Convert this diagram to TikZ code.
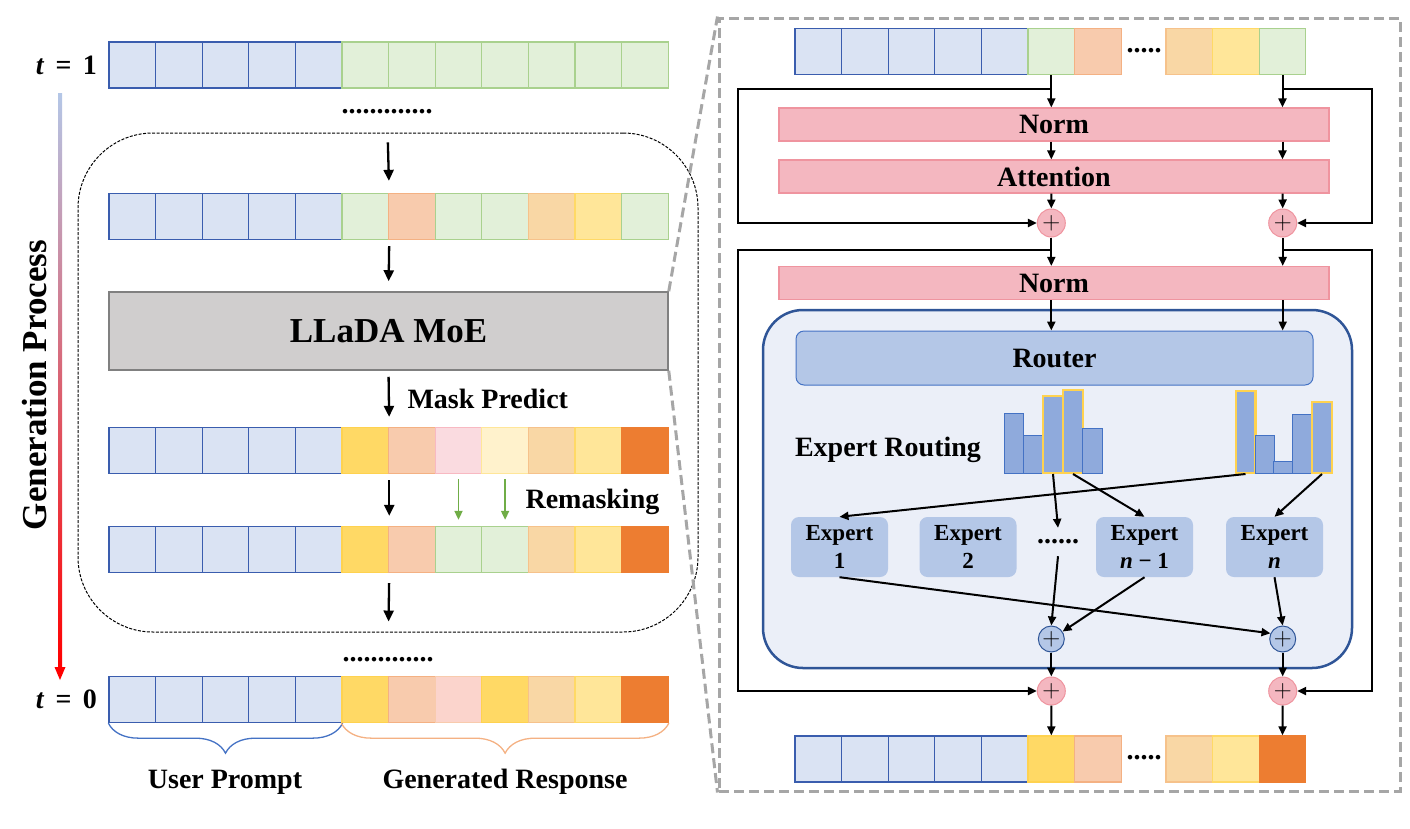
\documentclass[tikz,border=0pt]{standalone}
\usepackage{fontspec}
\setmainfont{Liberation Serif}
\usetikzlibrary{arrows.meta,decorations.pathreplacing,positioning}

\definecolor{tokblue}{HTML}{DAE3F3}   \definecolor{tokblueln}{HTML}{3A5DAE}
\definecolor{tokgreen}{HTML}{E2F0D9}  \definecolor{tokgreenln}{HTML}{A9D18E}
\definecolor{tokpeach}{HTML}{F8CBAD}  \definecolor{tokpeachln}{HTML}{F4B183}
\definecolor{toklor}{HTML}{F9D7A5}    \definecolor{toklorln}{HTML}{F6C28B}
\definecolor{tokyel}{HTML}{FFE699}    \definecolor{tokyelln}{HTML}{FFD966}
\definecolor{tokgold}{HTML}{FFD965}   \definecolor{tokgoldln}{HTML}{FFD24F}
\definecolor{tokpink}{HTML}{FADBE0}   \definecolor{tokpinkln}{HTML}{F8B9C2}
\definecolor{toklyel}{HTML}{FFF2CC}   \definecolor{toklyelln}{HTML}{FFE699}
\definecolor{tokorange}{HTML}{ED7D31}
\definecolor{tokrose}{HTML}{FBD4CC}   \definecolor{tokroseln}{HTML}{F8CBAD}
\definecolor{normfill}{HTML}{F4B7C0}  \definecolor{normln}{HTML}{EF949F}
\definecolor{moefill}{HTML}{EBEFF8}   \definecolor{moeln}{HTML}{2F5597}
\definecolor{routefill}{HTML}{B4C7E7}
\definecolor{barfill}{HTML}{8FAADC}   \definecolor{barln}{HTML}{4472C4}
\definecolor{framegray}{HTML}{A6A6A6}
\definecolor{boxgray}{HTML}{D0CECE}   \definecolor{boxgrayln}{HTML}{808080}
\definecolor{arrgreen}{HTML}{70AD47}
\definecolor{gentop}{HTML}{B4C7E7}    \definecolor{genmid}{HTML}{E89AAE}

\begin{document}
\begin{tikzpicture}[x=1pt,y=-1pt,
  cell/.style={draw, line width=1.3pt, minimum width=46.6pt, minimum height=46pt, inner sep=0pt},
  tblue/.style={fill=tokblue, draw=tokblueln},
  tgreen/.style={fill=tokgreen, draw=tokgreenln},
  tpeach/.style={fill=tokpeach, draw=tokpeachln},
  tlor/.style={fill=toklor, draw=toklorln},
  tyel/.style={fill=tokyel, draw=tokyelln},
  tgold/.style={fill=tokgold, draw=tokgoldln},
  tpink/.style={fill=tokpink, draw=tokpinkln},
  tlyel/.style={fill=toklyel, draw=toklyelln},
  torange/.style={fill=tokorange, draw=tokorange},
  trose/.style={fill=tokrose, draw=tokroseln},
  lab/.style={font=\fontsize{28}{30}\selectfont\bfseries},
  dots/.style={lab, inner sep=0pt},
  larr/.style={line width=2.3pt, -{Triangle[length=11pt,width=10pt]}, shorten <=6pt, shorten >=10pt},
  garr/.style={line width=1.7pt, draw=arrgreen, -{Triangle[length=9pt,width=8pt]}, shorten <=5pt, shorten >=6pt},
  rarr/.style={line width=2pt, -{Triangle[length=9pt,width=8pt]}},
  res/.style={line width=2.4pt, -{Triangle[length=9pt,width=8pt]}},
  normbox/.style={lab, draw=normln, fill=normfill, line width=1.2pt, minimum width=550pt, minimum height=33pt, inner sep=0pt},
  pplus/.style={circle, draw=normln, fill=normfill, line width=1pt, minimum size=28pt, inner sep=0pt, font=\fontsize{26}{26}\selectfont},
  bplus/.style={circle, draw=moeln, fill=routefill, line width=1pt, minimum size=26pt, inner sep=0pt, font=\fontsize{26}{26}\selectfont},
  bar/.style={draw=barln, fill=barfill, line width=1pt, minimum width=19.6pt, inner sep=0pt, anchor=south},
  hbar/.style={bar, draw=tokgoldln, line width=2.4pt},
  expert/.style={fill=routefill, rounded corners=8pt, minimum width=97pt, minimum height=60pt, inner sep=0pt, align=center,
    font=\fontsize{23}{28}\selectfont\bfseries},
  tlabel/.style={font=\fontsize{28}{28}\selectfont\bfseries},
  zoomln/.style={draw=framegray, line width=3pt, dash pattern=on 10pt off 5pt}]
\useasboundingbox (0,0) rectangle (1410,828);

% ---- left: generation process ----
\foreach \y [count=\r] in {65,216.5,450.5,549.5,699.5}
  \foreach \i in {1,...,5}
    \node[cell,tblue] (r\r-\i) at ({109+46.6*(\i-0.5)},\y) {};
\foreach \s [count=\j from 6] in {tgreen,tgreen,tgreen,tgreen,tgreen,tgreen,tgreen}
  \node[cell,\s] (r1-\j) at ({109+46.6*(\j-0.5)},65) {};
\foreach \s [count=\j from 6] in {tgreen,tpeach,tgreen,tgreen,tlor,tyel,tgreen}
  \node[cell,\s] (r2-\j) at ({109+46.6*(\j-0.5)},216.5) {};
\foreach \s [count=\j from 6] in {tgold,tpeach,tpink,tlyel,tlor,tyel,torange}
  \node[cell,\s] (r3-\j) at ({109+46.6*(\j-0.5)},450.5) {};
\foreach \s [count=\j from 6] in {tgold,tpeach,tgreen,tgreen,tlor,tyel,torange}
  \node[cell,\s] (r4-\j) at ({109+46.6*(\j-0.5)},549.5) {};
\foreach \s [count=\j from 6] in {tgold,tpeach,trose,tgold,tlor,tyel,torange}
  \node[cell,\s] (r5-\j) at ({109+46.6*(\j-0.5)},699.5) {};

\node[tlabel, left=8pt of r1-1] (t1) {\textit{t}\hspace{0.4em}=\hspace{0.4em}1};
\node[tlabel, left=8pt of r5-1] (t0) {\textit{t}\hspace{0.4em}=\hspace{0.4em}0};

\node[draw, dash pattern=on 3pt off 1.5pt, line width=1pt, rounded corners=75pt,
  minimum width=620pt, minimum height=499pt] (loop) at (388,382.5) {};
\node[dots] (ld1) at (387,112) {.............};
\node[dots] (ld2) at (388,660) {.............};
\node[lab, font=\fontsize{35}{36}\selectfont\bfseries, draw=boxgrayln, fill=boxgray, line width=1.5pt,
  minimum width=559pt, minimum height=78pt] (llada) at (388.5,331) {LLaDA MoE};

\draw[larr, shorten <=28pt, shorten >=12pt] (ld1) -- (r2-6.north east);
\draw[larr] (r2-6.south east) -- (llada.north);
\draw[larr] (llada.south) -- (r3-6.north east);
\draw[larr] (r3-6.south east) -- (r4-6.north east);
\draw[larr, shorten <=10pt, shorten >=36pt] (r4-6.south east) -- (ld2);
\draw[garr] (r3-8.south) -- (r4-8.north);
\draw[garr] (r3-9.south) -- (r4-9.north);
\node[lab, anchor=west] (maskpred) at (404,399) {Mask Predict};
\node[lab, anchor=west] (remask) at (522,502) {Remasking};

\draw[decorate, decoration={brace, mirror, amplitude=30pt}, draw=barln, line width=1.3pt]
  (r5-1.south west) -- (r5-5.south east);
\draw[decorate, decoration={brace, mirror, amplitude=30pt}, draw=tokpeachln, line width=1.3pt]
  (r5-6.south west) -- (r5-12.south east);
\node[lab] (prompt) at (225,782) {User Prompt};
\node[lab] (resp) at (505,782) {Generated Response};

% time arrow
\shade[top color=gentop, middle color=genmid, bottom color=red] (58,93) rectangle (62,668);
\fill[red] (54.5,667) -- (65.5,667) -- (60,680) -- cycle;
\node[lab, font=\fontsize{35}{35}\selectfont\bfseries, rotate=90] (gen) at (35,385) {Generation Process};

% ---- right: one MoE block ----
\node[zoomln, minimum width=681pt, minimum height=773pt] (frame) at (1059.5,404.5) {};
\draw[zoomln] (llada.north east) -- (frame.north west);
\draw[zoomln] (llada.south east) -- (frame.south west);

\foreach \s [count=\i] in {tblue,tblue,tblue,tblue,tblue,tgreen,tpeach,tlor,tyel,tgreen}
  {\pgfmathsetmacro\px{\i<8 ? 795+46.6*(\i-0.5) : 1166+46.6*(\i-7.5)}
  \node[cell,\s] (in-\i) at (\px,51.5) {};};
\foreach \s [count=\i] in {tblue,tblue,tblue,tblue,tblue,tgold,tpeach,tlor,tyel,torange}
  {\pgfmathsetmacro\px{\i<8 ? 795+46.6*(\i-0.5) : 1166+46.6*(\i-7.5)}
  \node[cell,\s] (out-\i) at (\px,759) {};};
\node[dots] (indots) at (1144,51) {.....};
\node[dots] (outdots) at (1144,758) {.....};

\node[normbox] (norm1) at (1054,124.5) {Norm};
\node[normbox] (attn) at (1054,176.5) {Attention};
\node[pplus] (add1) at (1051.3,223) {$+$};
\node[pplus] (add2) at (1282.7,223) {$+$};
\node[normbox] (norm2) at (1054,283) {Norm};
\node[draw=moeln, fill=moefill, line width=2.5pt, rounded corners=40pt,
  minimum width=589pt, minimum height=358pt] (moe) at (1057.5,489) {};
\node[lab, draw=barln, fill=routefill, line width=1pt, rounded corners=8pt,
  minimum width=517pt, minimum height=54pt] (router) at (1054.5,358) {Router};
\node[lab] (routing) at (888,450) {Expert Routing};

\foreach \px/\h/\s [count=\i] in {1014/60/bar,1033.5/38/bar,1053/77/hbar,1073/83/hbar,1092.5/45/bar}
  \node[\s, minimum height=\h pt] (ha\i) at (\px,474) {};
\foreach \px/\h/\s [count=\i] in {1245.5/82/hbar,1265/38/bar,1283.5/12/bar,1302.5/59/bar,1322/71/hbar}
  \node[\s, minimum height=\h pt] (hb\i) at (\px,474) {};

\node[expert] (e1) at (839.5,547) {Expert\\1};
\node[expert] (e2) at (968,547) {Expert\\2};
\node[dots, minimum height=28pt] (edots) at (1058,542) {......};
\node[expert] (e3) at (1144.5,547) {Expert\\\textit{n} − 1};
\node[expert] (e4) at (1274.5,547) {Expert\\\textit{n}};
\node[bplus] (sum1) at (1051.3,639) {$+$};
\node[bplus] (sum2) at (1282.7,639) {$+$};
\node[pplus] (add3) at (1051.3,691) {$+$};
\node[pplus] (add4) at (1282.7,691) {$+$};

\coordinate (splitL1) at (1051.3,89);
\coordinate (splitR1) at (1282.7,89);
\coordinate (splitL2) at (1051.3,250);
\coordinate (splitR2) at (1282.7,250);
\coordinate (busL) at (738,0);
\coordinate (busR) at (1372,0);

\draw[rarr] (in-6.south) -- (in-6 |- norm1.north);
\draw[rarr] (in-10.south) -- (in-10 |- norm1.north);
\draw[rarr] (in-6 |- norm1.south) -- (in-6 |- attn.north);
\draw[rarr] (in-10 |- norm1.south) -- (in-10 |- attn.north);
\draw[rarr] (in-6 |- attn.south) -- (add1.north);
\draw[rarr] (in-10 |- attn.south) -- (add2.north);
\draw[res] (splitL1) -- (splitL1 -| busL) |- (add1.west);
\draw[res] (splitR1) -- (splitR1 -| busR) |- (add2.east);
\draw[rarr] (add1.south) -- (add1 |- norm2.north);
\draw[rarr] (add2.south) -- (add2 |- norm2.north);
\draw[res] (splitL2) -- (splitL2 -| busL) |- (add3.west);
\draw[res] (splitR2) -- (splitR2 -| busR) |- (add4.east);
\draw[rarr] (add1 |- norm2.south) -- (add1 |- router.north);
\draw[rarr] (add2 |- norm2.south) -- (add2 |- router.north);

\draw[rarr] (ha3.south) -- (edots.north);
\draw[rarr] (ha4.south) -- (e3.north);
\draw[rarr] (hb1.south) -- (e1.north);
\draw[rarr] (hb5.south) -- (e4.north);
\draw[rarr] (edots.south) -- (sum1.north);
\draw[rarr] (e3.south) -- (sum1);
\draw[rarr] (e1.south) -- (sum2.155);
\draw[rarr] (e4.south) -- (sum2.north);
\draw[rarr] (sum1.south) -- (add3.north);
\draw[rarr] (sum2.south) -- (add4.north);
\draw[rarr] (add3.south) -- (out-6.north);
\draw[rarr] (add4.south) -- (out-10.north);
\end{tikzpicture}
\end{document}
